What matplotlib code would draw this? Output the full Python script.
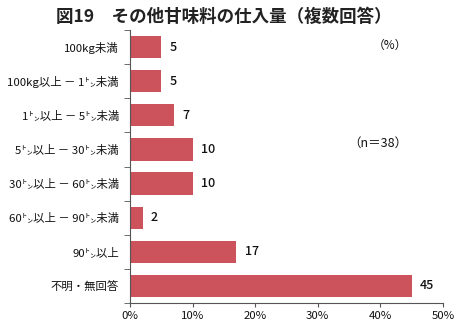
import matplotlib
matplotlib.use("Agg")
import matplotlib.pyplot as plt
from matplotlib.ticker import FuncFormatter

plt.rcParams['font.family'] = ['Noto Sans CJK JP', 'DejaVu Sans']

categories = ["100kg未満", "100kg以上 － 1㌧未満", "1㌧以上 － 5㌧未満", "5㌧以上 － 30㌧未満",
              "30㌧以上 － 60㌧未満", "60㌧以上 － 90㌧未満", "90㌧以上", "不明・無回答"]
values = [5, 5, 7, 10, 10, 2, 17, 45]
value_labels = ["5", "5", "7", "10", "10", "2", "17", "45"]
xticks = [0, 10, 20, 30, 40, 50]

fig = plt.figure(figsize=(4.63, 3.23), dpi=100)
ax = fig.add_axes([130/463, 20/323, 313/463, 273/323])

ypos = list(range(len(categories)))
ax.barh(ypos, values, height=0.65, color="#CC525B")
ax.set_ylim(len(categories) - 0.5, -0.5)
ax.set_xlim(0, 50)
ax.set_yticks(ypos)
ax.set_yticklabels(categories, fontsize=8.2, color='#111111')
ax.set_yticks([i + 0.5 for i in range(-1, len(categories))], minor=True)
ax.tick_params(axis='y', which='major', length=0, pad=8)
ax.tick_params(axis='y', which='minor', length=4, color='#555555')
ax.set_xticks(xticks)
ax.xaxis.set_major_formatter(FuncFormatter(lambda v, p: f"{int(v)}%"))
ax.tick_params(axis='x', labelsize=8.2, length=3, color='#555555', pad=3, labelcolor='#111111')

for s in ['top', 'right']:
    ax.spines[s].set_visible(False)
for s in ['left', 'bottom']:
    ax.spines[s].set_color('#555555')
    ax.spines[s].set_linewidth(0.8)

for y, v, lab in zip(ypos, values, value_labels):
    ax.text(v + 1.3, y, lab, va='center', ha='left', fontsize=9, fontweight='medium', color='#111111')

fig.text(224/463, 1 - 17/323, "図19　その他甘味料の仕入量（複数回答）", ha='center', va='center',
         fontsize=12.6, fontweight='bold', color='#222222')
fig.text(390/463, 1 - 45/323, "（%）", ha='center', va='center', fontsize=8.5, color='#111111')
fig.text(378/463, 1 - 143/323, "（n＝38）", ha='center', va='center', fontsize=9, color='#111111')

fig.savefig("out.png", dpi=100)
